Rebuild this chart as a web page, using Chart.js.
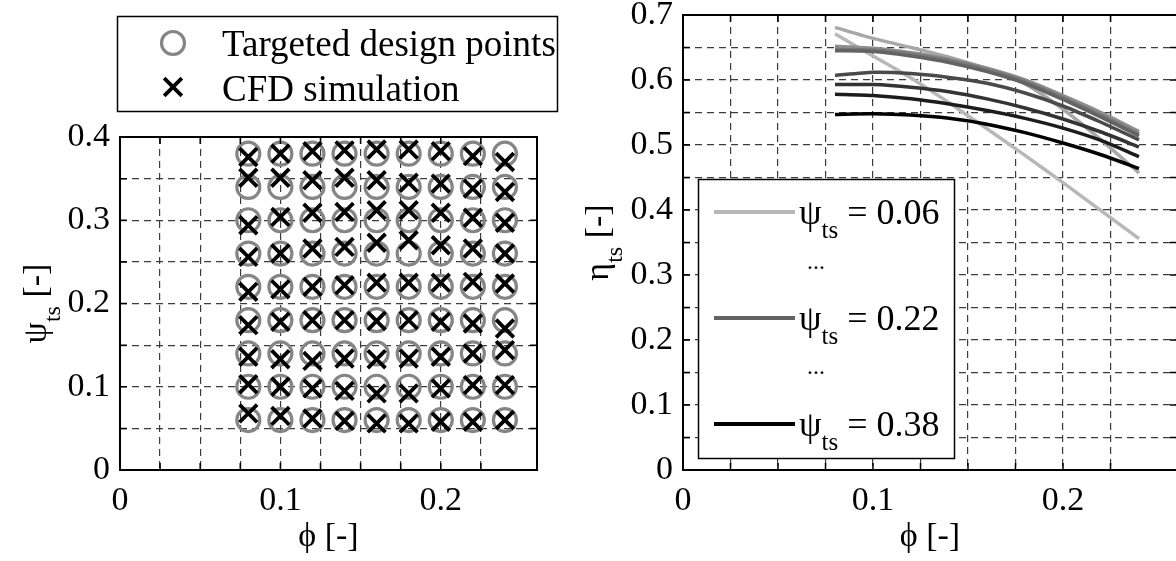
<!DOCTYPE html>
<html>
<head>
<meta charset="utf-8">
<script src="https://cdn.jsdelivr.net/npm/chart.js@4.4.0/dist/chart.umd.min.js"></script>
<style>
html, body { margin: 0; padding: 0; background: #fff; overflow: hidden; width: 1176px; height: 561px; }
#left { position: absolute; left: 0; top: 0; }
#right { position: absolute; left: 560px; top: -20px; }
</style>
</head>
<body>
<canvas id="left" width="570" height="561"></canvas>
<canvas id="right" width="640" height="581"></canvas>
<script>
'use strict';

// targeted design grid (flow coefficient / loading coefficient)
var phiTargets = [0.08, 0.10, 0.12, 0.14, 0.16, 0.18, 0.20, 0.22, 0.24];
var psiTargets = [0.06, 0.10, 0.14, 0.18, 0.22, 0.26, 0.30, 0.34, 0.38];

// psi reached by the CFD runs, one row per target psi, one value per phi
var cfdPsi06 = [0.068, 0.065, 0.062, 0.059, 0.056, 0.056, 0.058, 0.058, 0.060];
var cfdPsi10 = [0.103, 0.100, 0.098, 0.095, 0.092, 0.092, 0.098, 0.102, 0.102];
var cfdPsi14 = [0.136, 0.133, 0.131, 0.134, 0.133, 0.134, 0.136, 0.140, 0.144];
var cfdPsi18 = [0.174, 0.178, 0.180, 0.180, 0.179, 0.180, 0.178, 0.176, 0.170];
var cfdPsi22 = [0.214, 0.217, 0.220, 0.222, 0.225, 0.225, 0.225, 0.226, 0.224];
var cfdPsi26 = [0.256, 0.260, 0.266, 0.268, 0.273, 0.276, 0.270, 0.266, 0.260];
var cfdPsi30 = [0.294, 0.304, 0.309, 0.310, 0.312, 0.312, 0.309, 0.303, 0.297];
var cfdPsi34 = [0.351, 0.351, 0.348, 0.351, 0.348, 0.345, 0.344, 0.338, 0.334];
var cfdPsi38 = [0.376, 0.380, 0.383, 0.384, 0.385, 0.385, 0.383, 0.377, 0.370];
var cfdRows = [cfdPsi06, cfdPsi10, cfdPsi14, cfdPsi18, cfdPsi22, cfdPsi26, cfdPsi30, cfdPsi34, cfdPsi38];

// total-to-static efficiency along phi for each psi
var eta06 = [0.671, 0.637, 0.603, 0.565, 0.525, 0.484, 0.442, 0.399, 0.356];
var eta10 = [0.681, 0.664, 0.650, 0.635, 0.617, 0.594, 0.555, 0.508, 0.457];
var eta14 = [0.652, 0.649, 0.642, 0.632, 0.618, 0.600, 0.576, 0.550, 0.521];
var eta18 = [0.647, 0.646, 0.640, 0.630, 0.616, 0.598, 0.573, 0.546, 0.517];
var eta22 = [0.645, 0.644, 0.637, 0.627, 0.613, 0.595, 0.570, 0.543, 0.514];
var eta26 = [0.607, 0.612, 0.610, 0.604, 0.595, 0.580, 0.560, 0.535, 0.508];
var eta30 = [0.593, 0.593, 0.589, 0.582, 0.571, 0.557, 0.540, 0.520, 0.497];
var eta34 = [0.578, 0.576, 0.571, 0.563, 0.553, 0.541, 0.526, 0.507, 0.482];
var eta38 = [0.547, 0.548, 0.546, 0.541, 0.532, 0.519, 0.503, 0.485, 0.464];
var etaRows = [eta06, eta10, eta14, eta18, eta22, eta26, eta30, eta34, eta38];

var lineColors = ['#b8b8b8', '#a8a8a8', '#8e8e8e', '#787878', '#636363', '#4a4a4a', '#333333', '#1c1c1c', '#000000'];
var legendPsi = [0.06, 0.22, 0.38];

var SERIF = '"Liberation Serif", "Times New Roman", serif';
Chart.defaults.font.family = SERIF;
Chart.defaults.color = '#000';

function tenthLabel(v) {
    var t = Math.round(v * 10);
    if (Math.abs(v * 10 - t) > 1e-6) return '';
    return t === 0 ? '0' : (t / 10).toFixed(1);
}

function axis(max, step, fixedSize, isX) {
    var s = {
        type: 'linear', min: 0, max: max,
        ticks: { stepSize: step, autoSkip: false, maxRotation: 0, padding: isX ? 11 : 10, font: { size: 34 }, callback: tenthLabel },
        grid: { color: '#3c3c3c', lineWidth: 1.2, drawTicks: false },
        border: { display: false, dash: [7, 5] }
    };
    if (isX) {
        s.title = { display: true, text: 'ϕ [-]', font: { size: 34 }, padding: { top: 0, bottom: 4 } };
        s.afterFit = function (sc) { sc.height = fixedSize; };
    } else {
        s.afterFit = function (sc) { sc.width = fixedSize; };
    }
    return s;
}

// main text + subscript + rest, baseline at y
function subLabel(ctx, x, y, main, sub, rest, size, align) {
    var pieces = [[main, size, 0], [sub, Math.round(size * 0.7), size * 0.4], [rest, size, 0]];
    var total = 0;
    pieces.forEach(function (p) {
        ctx.font = p[1] + 'px ' + SERIF;
        p.push(ctx.measureText(p[0]).width);
        total += p[3];
    });
    var cx = align === 'center' ? x - total / 2 : x;
    ctx.textAlign = 'left';
    ctx.textBaseline = 'alphabetic';
    ctx.fillStyle = '#000';
    pieces.forEach(function (p) {
        ctx.font = p[1] + 'px ' + SERIF;
        ctx.fillText(p[0], cx, y + p[2]);
        cx += p[3];
    });
}

function drawFrame(chart) {
    var ctx = chart.ctx, a = chart.chartArea;
    var xs = chart.scales.x, ys = chart.scales.y;
    ctx.save();
    ctx.strokeStyle = '#000';
    ctx.lineWidth = 1.5;
    ctx.beginPath();
    xs.ticks.forEach(function (t) {
        var px = xs.getPixelForValue(t.value);
        ctx.moveTo(px, a.bottom); ctx.lineTo(px, a.bottom - 7);
        ctx.moveTo(px, a.top); ctx.lineTo(px, a.top + 7);
    });
    ys.ticks.forEach(function (t) {
        var py = ys.getPixelForValue(t.value);
        ctx.moveTo(a.left, py); ctx.lineTo(a.left + 7, py);
        ctx.moveTo(a.right, py); ctx.lineTo(a.right - 7, py);
    });
    ctx.stroke();
    ctx.lineWidth = 2;
    ctx.strokeRect(a.left, a.top, a.right - a.left, a.bottom - a.top);
    ctx.restore();
}

function yTitle(chart, x, sym) {
    var ctx = chart.ctx, a = chart.chartArea;
    ctx.save();
    ctx.translate(x, (a.top + a.bottom) / 2);
    ctx.rotate(-Math.PI / 2);
    subLabel(ctx, 0, 11, sym, 'ts', ' [-]', 34, 'center');
    ctx.restore();
}

// ---------- left: design points ----------
var targetPoints = [];
var cfdPoints = [];
psiTargets.forEach(function (psi, i) {
    phiTargets.forEach(function (phi, j) {
        targetPoints.push({ x: phi, y: psi });
        cfdPoints.push({ x: phi, y: cfdRows[i][j] });
    });
});

var leftDecor = {
    id: 'leftDecor',
    afterDraw: function (chart) {
        var ctx = chart.ctx;
        drawFrame(chart);
        yTitle(chart, 35, 'ψ');

        ctx.save();
        ctx.fillStyle = '#fff';
        ctx.fillRect(117, 16, 441, 96);
        ctx.strokeStyle = '#000';
        ctx.lineWidth = 1.5;
        ctx.strokeRect(117.5, 16.5, 440, 95);

        var target = chart.data.datasets[1], cfd = chart.data.datasets[0];
        ctx.beginPath();
        ctx.arc(173, 43, target.pointRadius, 0, Math.PI * 2);
        ctx.lineWidth = target.pointBorderWidth;
        ctx.strokeStyle = target.pointBorderColor;
        ctx.stroke();

        var h = cfd.pointRadius * Math.SQRT1_2;
        ctx.beginPath();
        ctx.moveTo(173 - h, 87 - h); ctx.lineTo(173 + h, 87 + h);
        ctx.moveTo(173 + h, 87 - h); ctx.lineTo(173 - h, 87 + h);
        ctx.lineWidth = cfd.pointBorderWidth;
        ctx.strokeStyle = cfd.pointBorderColor;
        ctx.stroke();

        ctx.fillStyle = '#000';
        ctx.font = '37px ' + SERIF;
        ctx.textAlign = 'left';
        ctx.textBaseline = 'alphabetic';
        ctx.fillText(target.label, 222, 56);
        ctx.fillText(cfd.label, 222, 101);
        ctx.restore();
    }
};

new Chart(document.getElementById('left'), {
    type: 'scatter',
    data: {
        datasets: [{
            label: 'CFD simulation',
            data: cfdPoints,
            pointStyle: 'crossRot',
            pointRadius: 12.5,
            pointBorderWidth: 3.8,
            pointBorderColor: '#000',
            pointBackgroundColor: 'rgba(0,0,0,0)',
            order: 1
        }, {
            label: 'Targeted design points',
            data: targetPoints,
            pointStyle: 'circle',
            pointRadius: 11.5,
            pointBorderWidth: 3.2,
            pointBorderColor: '#858585',
            pointBackgroundColor: 'rgba(0,0,0,0)',
            order: 2
        }]
    },
    options: {
        responsive: false,
        animation: false,
        layout: { padding: { left: 0, top: 137, right: 33, bottom: 0 } },
        plugins: { legend: { display: false }, tooltip: { enabled: false } },
        scales: {
            x: axis(0.26, 0.025, 91, true),
            y: axis(0.4, 0.05, 120, false)
        }
    },
    plugins: [leftDecor]
});

// ---------- right: efficiency lines ----------
var lineSets = etaRows.map(function (row, i) {
    return {
        label: 'ψts = ' + psiTargets[i].toFixed(2),
        psi: psiTargets[i],
        data: phiTargets.map(function (phi, j) { return { x: phi, y: row[j] }; }),
        showLine: true,
        borderColor: lineColors[i],
        borderWidth: 3.5,
        pointRadius: 0,
        tension: 0.2,
        order: etaRows.length - i
    };
});

var rightDecor = {
    id: 'rightDecor',
    afterDraw: function (chart) {
        var ctx = chart.ctx;
        drawFrame(chart);
        yTitle(chart, 37, 'η');

        ctx.save();
        ctx.fillStyle = '#fff';
        ctx.fillRect(138, 199, 257, 280);
        ctx.strokeStyle = '#000';
        ctx.lineWidth = 1.5;
        ctx.strokeRect(138.5, 199.5, 256, 279);

        var rowY = [232, 286, 338, 391, 444];
        var k = 0;
        legendPsi.forEach(function (psi, n) {
            var ds = chart.data.datasets.filter(function (d) { return Math.abs(d.psi - psi) < 1e-9; })[0];
            var y = rowY[k];
            ctx.beginPath();
            ctx.moveTo(154, y); ctx.lineTo(235, y);
            ctx.strokeStyle = ds.borderColor;
            ctx.lineWidth = 4;
            ctx.stroke();
            subLabel(ctx, 239, y + 12, 'ψ', 'ts', ' = ' + psi.toFixed(2), 36, 'left');
            k++;
            if (n < legendPsi.length - 1) {
                ctx.font = '24px ' + SERIF;
                ctx.fillStyle = '#000';
                ctx.textAlign = 'left';
                ctx.fillText('...', 247, rowY[k] + 3);
                k++;
            }
        });
        ctx.restore();
    }
};

new Chart(document.getElementById('right'), {
    type: 'scatter',
    data: { datasets: lineSets },
    options: {
        responsive: false,
        animation: false,
        layout: { padding: { left: 0, top: 35, right: 23, bottom: 0 } },
        plugins: { legend: { display: false }, tooltip: { enabled: false } },
        scales: {
            x: axis(0.26, 0.025, 91, true),
            y: axis(0.7, 0.05, 123, false)
        }
    },
    plugins: [rightDecor]
});
</script>
</body>
</html>
